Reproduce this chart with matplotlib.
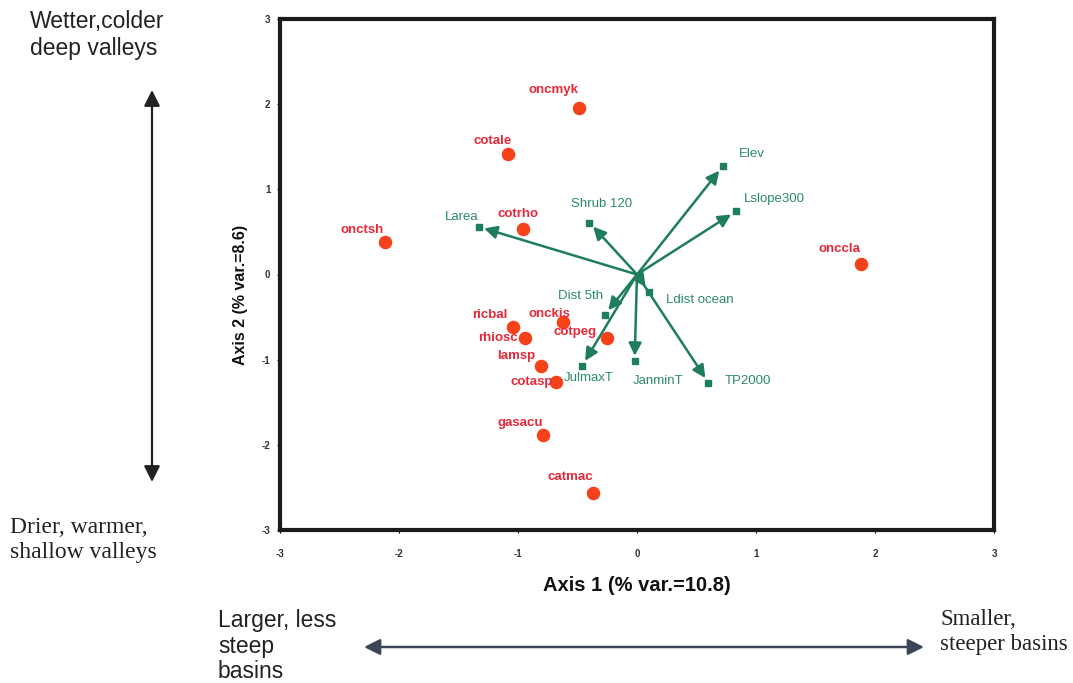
import numpy as np
import matplotlib.pyplot as plt

plt.rcParams['axes.unicode_minus'] = False

# species scores (axis 1, axis 2)
species = ['oncmyk', 'cotale', 'onctsh', 'cotrho', 'onccla', 'ricbal', 'rhiosc',
           'onckis', 'cotpeg', 'lamsp', 'cotasp', 'gasacu', 'catmac']
sp_x = [-0.49, -1.08, -2.12, -0.96, 1.88, -1.04, -0.94, -0.62, -0.25, -0.81, -0.68, -0.79, -0.37]
sp_y = [1.96, 1.41, 0.38, 0.53, 0.12, -0.62, -0.74, -0.56, -0.74, -1.07, -1.26, -1.89, -2.56]

# environmental vectors (biplot arrows)
env = ['Elev', 'Lslope300', 'Shrub 120', 'Larea', 'Dist 5th', 'Ldist ocean',
       'JulmaxT', 'JanminT', 'TP2000']
env_x = [0.72, 0.83, -0.40, -1.33, -0.27, 0.10, -0.46, -0.02, 0.60]
env_y = [1.27, 0.74, 0.61, 0.56, -0.47, -0.20, -1.07, -1.02, -1.27]

ticks = [-3, -2, -1, 0, 1, 2, 3]

# label placement (offset in points, horizontal alignment)
sp_off = [(0, 13), (2, 10), (-1, 9), (11, 11), (0, 11), (-4, 9), (-5, 0),
          (5, 6), (-8, 4), (-4, 7), (-2, 0), (0, 9), (0, 11)]
env_off = [(12, 9, 'left'), (6, 9, 'left'), (-13, 13, 'left'), (0, 7, 'right'),
           (-1, 13, 'right'), (12, -6, 'left'), (-13, -9, 'left'),
           (-1, -14, 'left'), (12, 1, 'left')]

RED = '#f5421a'
RED_TXT = '#e5283a'
GREEN = '#1d7d5c'
GREEN_TXT = '#2b8a6a'
SANS = 'Liberation Sans'
SERIF = 'Liberation Serif'

fig = plt.figure(figsize=(10.73, 6.83), dpi=100)
ax = fig.add_axes([280/1073, 153/683, 714/1073, 511/683])

for x, y in zip(env_x, env_y):
    ax.annotate('', xy=(x, y), xytext=(0, 0),
                arrowprops=dict(arrowstyle='-|>', color=GREEN, lw=1.8,
                                mutation_scale=19, shrinkA=0, shrinkB=4))
ax.plot(env_x, env_y, 's', color=GREEN, ms=4.5, ls='none')
for name, x, y, (dx, dy, ha) in zip(env, env_x, env_y, env_off):
    ax.annotate(name, (x, y), xytext=(dx, dy), textcoords='offset points',
                ha=ha, va='center', fontsize=9.5, color=GREEN_TXT, family=SANS)

ax.scatter(sp_x, sp_y, s=95, color=RED, zorder=3, linewidths=0)
for name, x, y, (dx, dy) in zip(species, sp_x, sp_y, sp_off):
    ax.annotate(name, (x, y), xytext=(dx, dy), textcoords='offset points',
                ha='right', va='center', fontsize=9.5, color=RED_TXT,
                family=SANS, fontweight='bold', zorder=4)

ax.set_xlim(-3, 3)
ax.set_ylim(-3, 3)
ax.set_xticks(ticks)
ax.set_yticks(ticks)
ax.tick_params(length=2, width=0.8, labelsize=7, pad=12)
ax.tick_params(axis='y', pad=5)
for lab in ax.get_xticklabels() + ax.get_yticklabels():
    lab.set_family(SANS)
    lab.set_fontweight('bold')
    lab.set_color('#333333')
for sp in ax.spines.values():
    sp.set_linewidth(3)
    sp.set_color('#1a1a1a')

ax.set_xlabel('Axis 1 (% var.=10.8)', fontsize=14.5, fontweight='bold',
              family=SANS, labelpad=12, color='#111111')
ax.set_ylabel('Axis 2 (% var.=8.6)', fontsize=11.5, fontweight='bold',
              family=SANS, color='#111111')
ax.yaxis.set_label_coords(-0.045, 0.46)

# interpretation of the axes, placed in figure pixels
fig.text(30, 683 - 35, 'Wetter,colder\ndeep valleys', fontsize=16.5,
         family=SANS, color='#222222', va='center', ha='left',
         transform=None, linespacing=1.25)
fig.text(10, 683 - 540, 'Drier, warmer,\nshallow valleys', fontsize=17,
         family=SERIF, color='#222222', va='center', ha='left',
         transform=None, linespacing=1.2)
fig.text(218, 683 - 646, 'Larger, less\nsteep\nbasins', fontsize=16.5,
         family=SANS, color='#222222', va='center', ha='left',
         transform=None, linespacing=1.15)
fig.text(940, 683 - 632, 'Smaller,\nsteeper basins', fontsize=16.5,
         family=SERIF, color='#222222', va='center', ha='left',
         transform=None, linespacing=1.2)

ax.annotate('', xy=(152, 683 - 90), xytext=(152, 683 - 482),
            xycoords='figure pixels', textcoords='figure pixels',
            arrowprops=dict(arrowstyle='<|-|>', color='#222222', lw=1.6,
                            mutation_scale=24, shrinkA=0, shrinkB=0))
ax.annotate('', xy=(364, 683 - 647), xytext=(924, 683 - 647),
            xycoords='figure pixels', textcoords='figure pixels',
            arrowprops=dict(arrowstyle='<|-|>', color='#3c4658', lw=1.8,
                            mutation_scale=24, shrinkA=0, shrinkB=0))

fig.savefig('out.png', dpi=100, facecolor='white')
